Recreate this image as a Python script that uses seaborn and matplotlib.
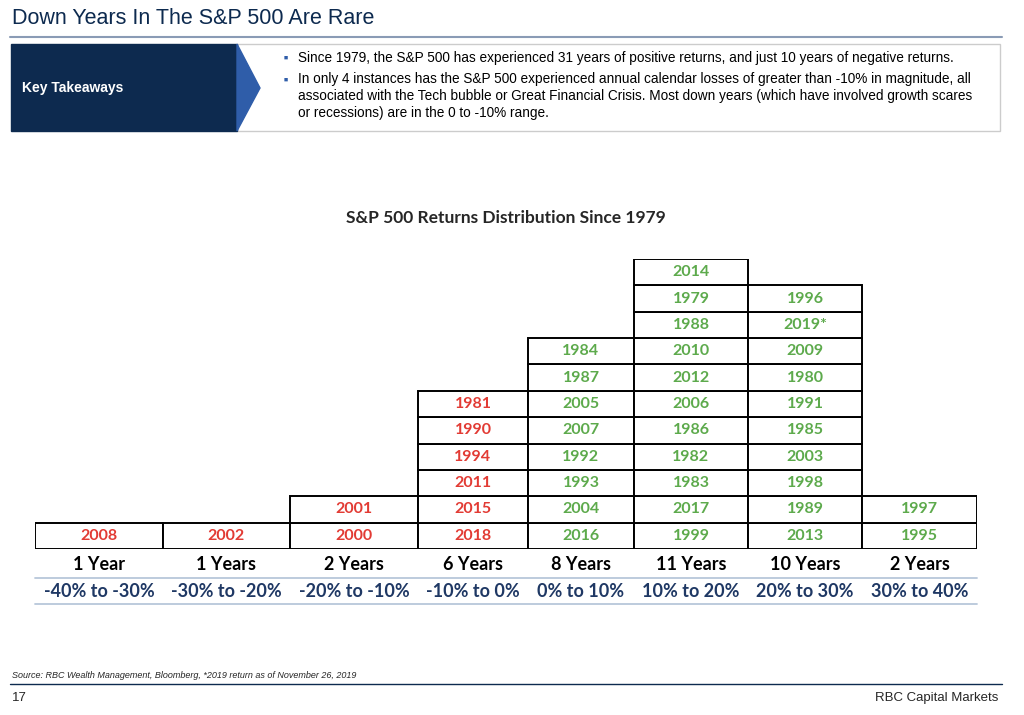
import matplotlib.pyplot as plt
import matplotlib.patches as mpatches
import seaborn as sns

sns.set_theme(style="white")
plt.rcParams['font.family'] = ['Liberation Sans', 'DejaVu Sans']

ranges = ["-40% to -30%", "-30% to -20%", "-20% to -10%", "-10% to 0%",
          "0% to 10%", "10% to 20%", "20% to 30%", "30% to 40%"]
count_labels = ["1 Year", "1 Years", "2 Years", "6 Years",
                "8 Years", "11 Years", "10 Years", "2 Years"]
# years per bucket, bottom to top
years = [
    ["2008"],
    ["2002"],
    ["2000", "2001"],
    ["2018", "2015", "2011", "1994", "1990", "1981"],
    ["2016", "2004", "1993", "1992", "2007", "2005", "1987", "1984"],
    ["1999", "2017", "1983", "1982", "1986", "2006", "2012", "2010", "1988", "1979", "2014"],
    ["2013", "1989", "1998", "2003", "1985", "1991", "1980", "2009", "2019*", "1996"],
    ["1995", "1997"],
]
negative = [True, True, True, True, False, False, False, False]

RED = "#E23B34"
GREEN = "#5DAA4C"
NAVY = "#1F3864"
DARK = "#0D2A4F"

W, H = 1024, 715
fig = plt.figure(figsize=(W / 100, H / 100), dpi=100)

# slide frame axes in pixel coordinates
bg = fig.add_axes([0, 0, 1, 1])
bg.set_xlim(0, W)
bg.set_ylim(H, 0)
bg.axis("off")

bg.text(12, 18, "Down Years In The S&P 500 Are Rare", fontsize=15.5, color=DARK, va="center")
bg.plot([10, 1002], [37, 37], color="#8A9BB5", lw=1.5)
bg.add_patch(mpatches.Rectangle((237, 44), 763, 87, fill=False, ec="#CCCCCC", lw=1))
bg.add_patch(mpatches.Rectangle((11, 44), 226, 87, color=DARK))
bg.add_patch(mpatches.Polygon([(237, 44), (260, 88), (237, 131)], color="#2F5DA9"))
bg.text(22, 88, "Key Takeaways", fontsize=10, color="white", weight="bold", va="center")
bg.text(284, 58, "■", fontsize=5, color="#2F5DA9", va="center")
bg.text(298, 58, "Since 1979, the S&P 500 has experienced 31 years of positive returns, and just 10 years of negative returns.",
        fontsize=9.8, color="black", va="center")
bg.text(284, 80, "■", fontsize=5, color="#2F5DA9", va="center")
bg.text(298, 72, "In only 4 instances has the S&P 500 experienced annual calendar losses of greater than -10% in magnitude, all\n"
        "associated with the Tech bubble or Great Financial Crisis. Most down years (which have involved growth scares\n"
        "or recessions) are in the 0 to -10% range.",
        fontsize=9.8, color="black", va="top", linespacing=1.25)
bg.text(506, 218, "S&P 500 Returns Distribution Since 1979", fontsize=12.5, weight="bold",
        ha="center", va="center", family=["Lato", "DejaVu Sans"])
bg.text(12, 675, "Source: RBC Wealth Management, Bloomberg, *2019 return as of November 26, 2019",
        fontsize=6.5, style="italic", va="center")
bg.plot([10, 1002], [684, 684], color=DARK, lw=1)
bg.text(12, 698, "17", fontsize=9.5, va="center")
bg.text(998, 698, "RBC Capital Markets", fontsize=9.5, ha="right", va="center")

# table axes
edges = [35, 163, 290, 418, 528, 634, 748, 862, 977]
x0, x1, ybot, ytop = 35, 977, 549, 259
ax = fig.add_axes([x0 / W, 1 - ybot / H, (x1 - x0) / W, (ybot - ytop) / H])
ax.set_xlim(x0, x1)
ax.set_ylim(0, 11)
ax.axis("off")

for i, col in enumerate(years):
    left = edges[i]
    width = edges[i + 1] - edges[i]
    color = RED if negative[i] else GREEN
    ax.bar([left] * len(col), [1] * len(col), width=width, bottom=range(len(col)),
           align="edge", color="white", edgecolor="black", lw=1.4)
    cx = left + width / 2
    for r, yr in enumerate(col):
        ax.text(cx, r + 0.5, yr, ha="center", va="center", fontsize=11.5, color=color,
                weight="bold", family=["Lato", "DejaVu Sans"])
    ax.text(cx, -0.6, count_labels[i], ha="center", va="center", fontsize=13, weight="bold",
            color="black", family=["Lato", "DejaVu Sans"], clip_on=False)
    ax.text(cx, -1.63, ranges[i], ha="center", va="center", fontsize=13, weight="bold",
            color=NAVY, family=["Lato", "DejaVu Sans"], clip_on=False)

ax.plot([x0, x1], [-1.1, -1.1], color="#B8C7DA", lw=1.3, clip_on=False)
ax.plot([x0, x1], [-2.1, -2.1], color="#B8C7DA", lw=1.3, clip_on=False)

fig.savefig("out.png", dpi=100)
